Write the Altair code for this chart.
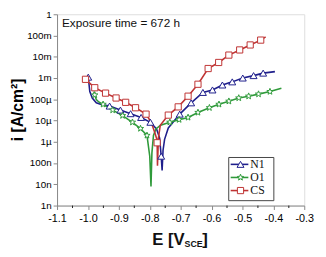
import math
import altair as alt
import pandas as pd

# ---------------- data ----------------
series_names = ["N1", "O1", "CS"]
series_colors = ["#1f1f8c", "#2f9a3a", "#bf3333"]

# N1 (blue, triangles)
n1_E = [-0.999, -0.994, -0.986, -0.973, -0.955, -0.930, -0.895, -0.862, -0.828, -0.798,
        -0.778, -0.768, -0.763, -0.760, -0.757, -0.752, -0.740, -0.720, -0.703, -0.666,
        -0.628, -0.597, -0.565, -0.533, -0.499, -0.464, -0.433, -0.395]
n1_i = [1.1e-3, 2.3e-4, 1.15e-4, 6.8e-5, 5.6e-5, 4.8e-5, 3.1e-5, 2.1e-5, 1.4e-5, 8.3e-6,
        4.0e-6, 1.5e-6, 2.1e-7, 4.5e-8, 4.0e-7, 1.3e-6, 4.5e-6, 1.0e-5, 2.0e-5, 6.8e-5,
        2.1e-4, 2.75e-4, 4.7e-4, 6.6e-4, 1.0e-3, 1.3e-3, 1.7e-3, 2.0e-3]
n1_mE = [-0.999, -0.930, -0.895, -0.862, -0.828, -0.798, -0.763, -0.703, -0.666, -0.628,
         -0.597, -0.565, -0.533, -0.499, -0.464, -0.433]
n1_mi = [1.1e-3, 4.8e-5, 3.1e-5, 2.1e-5, 1.4e-5, 8.3e-6, 2.1e-7, 2.0e-5, 6.8e-5, 2.1e-4,
         2.75e-4, 4.7e-4, 6.6e-4, 1.0e-3, 1.3e-3, 1.7e-3]

# O1 (green, stars)
o1_E = [-0.981, -0.978, -0.973, -0.965, -0.951, -0.920, -0.888, -0.856, -0.830, -0.809,
        -0.800, -0.796, -0.793, -0.788, -0.780, -0.765, -0.735, -0.705, -0.676, -0.644,
        -0.607, -0.576, -0.544, -0.512, -0.480, -0.448, -0.411, -0.374]
o1_i = [2.3e-4, 1.6e-4, 9.8e-5, 7.5e-5, 5.8e-5, 3.1e-5, 1.7e-5, 8.3e-6, 4.2e-6, 2.0e-6,
        2.1e-7, 8.0e-9, 3.0e-7, 2.0e-6, 4.0e-6, 6.0e-6, 8.3e-6, 1.1e-5, 1.4e-5, 2.4e-5,
        4.0e-5, 5.8e-5, 8.1e-5, 1.15e-4, 1.4e-4, 1.75e-4, 2.3e-4, 3.3e-4]
o1_mE = [-0.978, -0.951, -0.920, -0.888, -0.856, -0.830, -0.809, -0.735, -0.705, -0.676,
         -0.644, -0.607, -0.576, -0.544, -0.512, -0.480, -0.448, -0.411]
o1_mi = [1.6e-4, 5.8e-5, 3.1e-5, 1.7e-5, 8.3e-6, 4.2e-6, 2.0e-6, 8.3e-6, 1.1e-5, 1.4e-5,
         2.4e-5, 4.0e-5, 5.8e-5, 8.1e-5, 1.15e-4, 1.4e-4, 1.75e-4, 2.3e-4]

# CS (red, squares)
cs_E = [-1.008, -0.990, -0.978, -0.943, -0.909, -0.878, -0.846, -0.812, -0.795, -0.783,
        -0.777, -0.776, -0.775, -0.772, -0.766, -0.740, -0.708, -0.676, -0.644, -0.611,
        -0.577, -0.544, -0.509, -0.475, -0.441, -0.425]
cs_i = [8.7e-4, 5.0e-4, 3.5e-4, 1.95e-4, 1.15e-4, 7.2e-5, 4.0e-5, 2.0e-5, 8.0e-6, 2.5e-6,
        1.3e-6, 9.0e-7, 7.5e-8, 1.5e-6, 6.0e-6, 1.8e-5, 4.4e-5, 1.4e-4, 5.1e-4, 2.8e-3,
        5.4e-3, 1.2e-2, 2.1e-2, 3.6e-2, 6.1e-2, 8.7e-2]
cs_mE = [-1.008, -0.978, -0.943, -0.909, -0.878, -0.846, -0.812, -0.776, -0.740, -0.708,
         -0.676, -0.644, -0.611, -0.577, -0.544, -0.509, -0.475, -0.441]
cs_mi = [8.7e-4, 3.5e-4, 1.95e-4, 1.15e-4, 7.2e-5, 4.0e-5, 2.0e-5, 9.0e-7, 1.8e-5, 4.4e-5,
         1.4e-4, 5.1e-4, 2.8e-3, 5.4e-3, 1.2e-2, 2.1e-2, 3.6e-2, 6.1e-2]

x_ticks = [-1.1, -1.0, -0.9, -0.8, -0.7, -0.6, -0.5, -0.4, -0.3]
x_minor = [-1.05, -0.95, -0.85, -0.75, -0.65, -0.55, -0.45, -0.35]
y_ticks = [1e-9, 1e-8, 1e-7, 1e-6, 1e-5, 1e-4, 1e-3, 1e-2, 1e-1, 1]
annotation = "Exposure time = 672 h"

# ---------------- tables ----------------
def table(name, E, I):
    return pd.DataFrame({"E": E, "i": I, "series": name, "idx": range(len(E))})

df_line = pd.concat([table("N1", n1_E, n1_i), table("O1", o1_E, o1_i), table("CS", cs_E, cs_i)])
df_pts = pd.concat([table("N1", n1_mE, n1_mi), table("O1", o1_mE, o1_mi), table("CS", cs_mE, cs_mi)])
df_leg = pd.DataFrame({"series": series_names, "row": [0, 1, 2]})
df_minor = pd.DataFrame({"E": x_minor})
one = pd.DataFrame({"a": [0]})

# star symbol path
star = []
for k in range(10):
    r = 1.0 if k % 2 == 0 else 0.42
    a = -math.pi / 2 + k * math.pi / 5
    star.append(f"{r * math.cos(a):.3f},{r * math.sin(a):.3f}")
star_path = "M" + "L".join(star) + "Z"

color_scale = alt.Scale(domain=series_names, range=series_colors)
shape_scale = alt.Scale(domain=series_names, range=["triangle-up", star_path, "square"])
size_scale = alt.Scale(domain=series_names, range=[50, 40, 42])

xscale = alt.Scale(domain=[-1.1, -0.3], nice=False, zero=False)
yscale = alt.Scale(type="log", domain=[1e-9, 1], nice=False)

xaxis = alt.Axis(
    values=x_ticks, title=None, grid=False, labelOverlap=False, labelFlush=False,
    format=".1f", labelExpr="replace(datum.label, '\u2212', '-')",
    tickSize=4, labelFontSize=11, labelPadding=3,
)
yaxis = alt.Axis(
    values=y_ticks, grid=False, title="i [A/cm\u00b2]", labelOverlap=False, labelFlush=False,
    labelExpr="format(datum.value, '~s')", labelFontSize=10, tickSize=4, labelPadding=2,
    titleFontSize=16, titleFontWeight="bold", titleX=-40, titleY=97,
    titleAngle=270, titleAlign="center", titleBaseline="middle",
)

lines = alt.Chart(df_line).mark_line(strokeWidth=1.6, clip=True).encode(
    x=alt.X("E:Q", scale=xscale, axis=xaxis),
    y=alt.Y("i:Q", scale=yscale, axis=yaxis),
    color=alt.Color("series:N", scale=color_scale, legend=None),
    detail="series:N",
    order=alt.Order("idx:Q"),
)

points = alt.Chart(df_pts).mark_point(filled=True, fill="white", strokeWidth=1, opacity=1).encode(
    x=alt.X("E:Q", scale=xscale, axis=xaxis),
    y=alt.Y("i:Q", scale=yscale, axis=yaxis),
    stroke=alt.Stroke("series:N", scale=color_scale, legend=None),
    shape=alt.Shape("series:N", scale=shape_scale, legend=None),
    size=alt.Size("series:N", scale=size_scale, legend=None),
)

minor_ticks = alt.Chart(df_minor).mark_rule(color="#222", strokeWidth=1).encode(
    x=alt.X("E:Q", scale=xscale, axis=xaxis),
    y=alt.value(195), y2=alt.value(197.5),
)

title_txt = alt.Chart(one).mark_text(
    align="left", baseline="alphabetic", font="Liberation Sans", fontSize=12, color="#111"
).encode(x=alt.value(5), y=alt.value(12.5), text=alt.value(annotation))

xt1 = alt.Chart(one).mark_text(align="left", baseline="alphabetic", font="Liberation Sans",
                               fontSize=17, fontWeight="bold", color="#111").encode(
    x=alt.value(97), y=alt.value(235), text=alt.value("E [V"))
xt2 = alt.Chart(one).mark_text(align="left", baseline="alphabetic", font="Liberation Sans",
                               fontSize=9, fontWeight="bold", color="#111").encode(
    x=alt.value(130), y=alt.value(237), text=alt.value("SCE"))
xt3 = alt.Chart(one).mark_text(align="left", baseline="alphabetic", font="Liberation Sans",
                               fontSize=17, fontWeight="bold", color="#111").encode(
    x=alt.value(148), y=alt.value(235), text=alt.value("]"))

main = alt.layer(lines, points, minor_ticks, title_txt, xt1, xt2, xt3)

# ---------------- legend ----------------
leg_y = alt.Y("row:Q", scale=alt.Scale(domain=[0, 2], range=[153, 179.7]), axis=None)
box = alt.Chart(one).mark_rect(fill="white", stroke="#444", strokeWidth=1).encode(
    x=alt.value(175), x2=alt.value(221), y=alt.value(146), y2=alt.value(190))
leg_rule = alt.Chart(df_leg).mark_rule(strokeWidth=1.6).encode(
    x=alt.value(177), x2=alt.value(195), y=leg_y,
    color=alt.Color("series:N", scale=color_scale, legend=None))
leg_pt = alt.Chart(df_leg).mark_point(filled=True, fill="white", strokeWidth=1, opacity=1).encode(
    x=alt.value(187), y=leg_y,
    stroke=alt.Stroke("series:N", scale=color_scale, legend=None),
    shape=alt.Shape("series:N", scale=shape_scale, legend=None),
    size=alt.Size("series:N", scale=size_scale, legend=None))
leg_txt = alt.Chart(df_leg).mark_text(align="left", baseline="middle", font="Liberation Serif",
                                      fontSize=12, color="#111").encode(
    x=alt.value(197), y=leg_y, text="series:N")
legend = alt.layer(box, leg_rule, leg_pt, leg_txt)

chart = alt.layer(main, legend).resolve_scale(y="independent").properties(
    width=252, height=195,
    padding={"left": 50, "top": 4, "right": 14, "bottom": 48},
    autosize=alt.AutoSizeParams(type="none"),
).configure_view(stroke="#222", strokeWidth=1).configure_axis(
    domainColor="#222", tickColor="#222", labelColor="#222", titleColor="#111",
    labelFont="Liberation Sans", titleFont="Liberation Sans",
).configure(background="white")

chart.save("out.html", embed_options={"renderer": "svg", "actions": False})
